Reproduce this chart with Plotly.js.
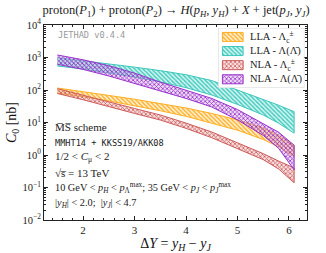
<!DOCTYPE html>
<html>
<head>
<meta charset="utf-8">
<script src="https://cdn.plot.ly/plotly-3.0.1.min.js"></script>
<style>body{margin:0;padding:0;background:#fff;} #plot{width:326px;height:253px;}</style>
</head>
<body>
<div id="plot"></div>
<script>
// ΔY grid
const deltaY = [1.5, 2.0, 2.5, 3.0, 3.5, 4.0, 4.5, 5.0, 5.5, 5.8, 6.1];

// LLA - Λc± (orange)
const llaLcUpper = [115, 90, 68, 52, 39, 28, 19, 12, 6.8, 4.0, 2.0];
const llaLcLower = [80, 62, 46, 33, 23, 15.5, 9.5, 5.8, 3.0, 1.8, 0.9];
// LLA - Λ(Λ̄) (cyan)
const llaLUpper = [990, 800, 640, 505, 395, 295, 195, 100, 52, 34, 21.6];
const llaLLower = [550, 440, 340, 250, 178, 118, 70, 36, 17, 9.5, 4.7];
// NLA - Λc± (red)
const nlaLcUpper = [110, 70, 44, 27, 17, 9.6, 5.1, 2.4, 1.1, 0.65, 0.40];
const nlaLcLower = [78, 50, 31, 19, 11.9, 6.6, 3.4, 1.55, 0.72, 0.37, 0.14];
// NLA - Λ(Λ̄) (purple)
const nlaLUpper = [1195, 850, 560, 330, 175, 100, 55, 25, 9.0, 5.0, 2.0];
const nlaLLower = [620, 430, 270, 165, 95, 55, 30, 12, 4.0, 1.6, 0.35];

const seriesNames = ['LLA - Λ<sub>c</sub><sup>±</sup>', 'LLA - Λ(Λ̄)', 'NLA - Λ<sub>c</sub><sup>±</sup>', 'NLA - Λ(Λ̄)'];
const seriesColors = ['#FFAE1F', '#3CC8BC', '#CD5C5C', '#9932CC'];
const seriesBg = ['rgba(255,210,140,0.35)', 'rgba(130,225,215,0.35)', 'rgba(235,165,165,0.35)', 'rgba(205,150,225,0.35)'];
const seriesHatch = ['\\', '\\', 'x', 'x'];

const yTickVals = [0.01, 0.1, 1, 10, 100, 1000, 10000];
const yTickText = ['10<sup>−2</sup>', '10<sup>−1</sup>', '10<sup>0</sup>', '10<sup>1</sup>', '10<sup>2</sup>', '10<sup>3</sup>', '10<sup>4</sup>'];

function band(upper, lower, i) {
  const x = deltaY.concat(deltaY.slice().reverse());
  const y = upper.concat(lower.slice().reverse());
  return {
    x: x, y: y, type: 'scatter', mode: 'lines', name: seriesNames[i],
    fill: 'toself', fillcolor: seriesBg[i],
    line: {color: seriesColors[i], width: 1},
    fillpattern: {shape: seriesHatch[i], fgcolor: seriesColors[i], bgcolor: seriesBg[i], size: 3, solidity: 0.45},
    hoverinfo: 'skip', showlegend: false
  };
}

const traces = [
  band(llaLcUpper, llaLcLower, 0),
  band(llaLUpper, llaLLower, 1),
  band(nlaLcUpper, nlaLcLower, 2),
  band(nlaLUpper, nlaLLower, 3)
];

// Legend box drawn in its own small [0,1]x[0,1] subplot (layout only)
const legendBox = {x: [0, 1, 1, 0, 0], y: [0, 0, 1, 1, 0]};
traces.push({
  x: legendBox.x, y: legendBox.y, xaxis: 'x2', yaxis: 'y2', type: 'scatter', mode: 'lines',
  fill: 'toself', fillcolor: 'rgba(255,255,255,0.93)', line: {color: '#d4d4d4', width: 1},
  hoverinfo: 'skip', showlegend: false
});
const legendAnn = [];
const rowH = 0.235, sw0 = 0.05, sw1 = 0.29, swH = 0.075;
for (let i = 0; i < 4; i++) {
  const yc = 0.85 - i * rowH;
  traces.push({
    x: [sw0, sw1, sw1, sw0, sw0], y: [yc - swH, yc - swH, yc + swH, yc + swH, yc - swH],
    xaxis: 'x2', yaxis: 'y2', type: 'scatter', mode: 'lines',
    fill: 'toself', fillcolor: seriesBg[i], line: {color: seriesColors[i], width: 1},
    fillpattern: {shape: seriesHatch[i], fgcolor: seriesColors[i], bgcolor: seriesBg[i], size: 3, solidity: 0.45},
    hoverinfo: 'skip', showlegend: false
  });
  legendAnn.push({
    xref: 'x2', yref: 'y2', x: 0.35, y: yc, xanchor: 'left', yanchor: 'middle',
    text: seriesNames[i], showarrow: false,
    font: {family: 'Liberation Serif, DejaVu Serif, serif', size: 10.5, color: '#222'}
  });
}

const minorY = [];
for (let d = -2; d < 4; d++) for (let k = 2; k <= 9; k++) minorY.push(k * Math.pow(10, d));

const serif = 'Liberation Serif, DejaVu Serif, serif';
const mono = 'DejaVu Sans Mono, Liberation Mono, monospace';

const notes = [
  {text: 'M̅S̅ scheme', y: 0.477, font: serif, size: 11},
  {text: 'MMHT14 + KKSS19/AKK08', y: 0.395, font: mono, size: 8.6},
  {text: '1/2 < <i>C</i><sub>μ</sub> < 2', y: 0.323, font: serif, size: 11},
  {text: '√s̅ = 13 TeV', y: 0.241, font: serif, size: 11},
  {text: '10 GeV < <i>p</i><sub><i>H</i></sub> < <i>p</i><sub>Λ</sub><sup>max</sup>; 35 GeV < <i>p</i><sub><i>J</i></sub> < <i>p</i><sub><i>J</i></sub><sup>max</sup>', y: 0.164, font: serif, size: 10.3},
  {text: '|<i>y</i><sub><i>H</i></sub>| < 2.0;  |<i>y</i><sub><i>J</i></sub>| < 4.7', y: 0.087, font: serif, size: 10.3}
];

const annotations = notes.map(n => ({
  xref: 'paper', yref: 'paper', x: 0.036, y: n.y, xanchor: 'left', yanchor: 'middle',
  text: n.text, showarrow: false, font: {family: n.font, size: n.size, color: '#222'}
}));
annotations.push({
  xref: 'paper', yref: 'paper', x: 0.045, y: 0.95, xanchor: 'left', yanchor: 'middle',
  text: 'JETHAD v0.4.4', showarrow: false, font: {family: mono, size: 8.6, color: '#9a9a9a'}
});

const hidden = {visible: false, range: [0, 1], fixedrange: true, showgrid: false, zeroline: false};

const layout = {
  width: 326, height: 253,
  margin: {l: 44, r: 19, t: 25, b: 33},
  paper_bgcolor: '#fff', plot_bgcolor: 'rgba(0,0,0,0)',
  showlegend: false,
  title: {
    text: 'proton(<i>P</i><sub>1</sub>) + proton(<i>P</i><sub>2</sub>) → <i>H</i>(<i>p<sub>H</sub></i>, <i>y<sub>H</sub></i>) + <i>X</i> + jet(<i>p<sub>J</sub></i>, <i>y<sub>J</sub></i>)',
    font: {family: serif, size: 12.5, color: '#222', weight: 'normal'},
    x: 0.54, xanchor: 'center', y: 0.962, yanchor: 'middle'
  },
  xaxis: {
    range: [1.24, 6.35], tick0: 0, dtick: 1, domain: [0, 1],
    ticks: 'inside', ticklen: 4, tickwidth: 1, tickcolor: '#222',
    minor: {dtick: 0.2, ticks: 'inside', ticklen: 2, tickcolor: '#222'},
    showline: true, linecolor: '#222', linewidth: 1, mirror: 'allticks',
    showgrid: false, zeroline: false,
    tickfont: {family: serif, size: 11, color: '#222'},
    title: {text: 'Δ<i>Y</i> = <i>y<sub>H</sub></i> − <i>y<sub>J</sub></i>', font: {family: serif, size: 14, color: '#111'}, standoff: 3}
  },
  yaxis: {
    type: 'log', range: [-2, 4], domain: [0, 1],
    tickmode: 'array', tickvals: yTickVals, ticktext: yTickText,
    ticks: 'inside', ticklen: 4, tickwidth: 1, tickcolor: '#222',
    minor: {tickmode: 'array', tickvals: minorY, ticks: 'inside', ticklen: 2, tickcolor: '#222'},
    showline: true, linecolor: '#222', linewidth: 1, mirror: 'allticks',
    showgrid: false, zeroline: false,
    tickfont: {family: serif, size: 10.5, color: '#222'},
    title: {text: '<i>C</i><sub>0</sub> [nb]', font: {family: serif, size: 14, color: '#111'}, standoff: 2}
  },
  xaxis2: Object.assign({domain: [0.662, 0.99], anchor: 'y2'}, hidden),
  yaxis2: Object.assign({domain: [0.677, 0.985], anchor: 'x2'}, hidden),
  annotations: annotations.concat(legendAnn)
};

Plotly.newPlot('plot', traces, layout, {staticPlot: true, displayModeBar: false});
</script>
</body>
</html>
